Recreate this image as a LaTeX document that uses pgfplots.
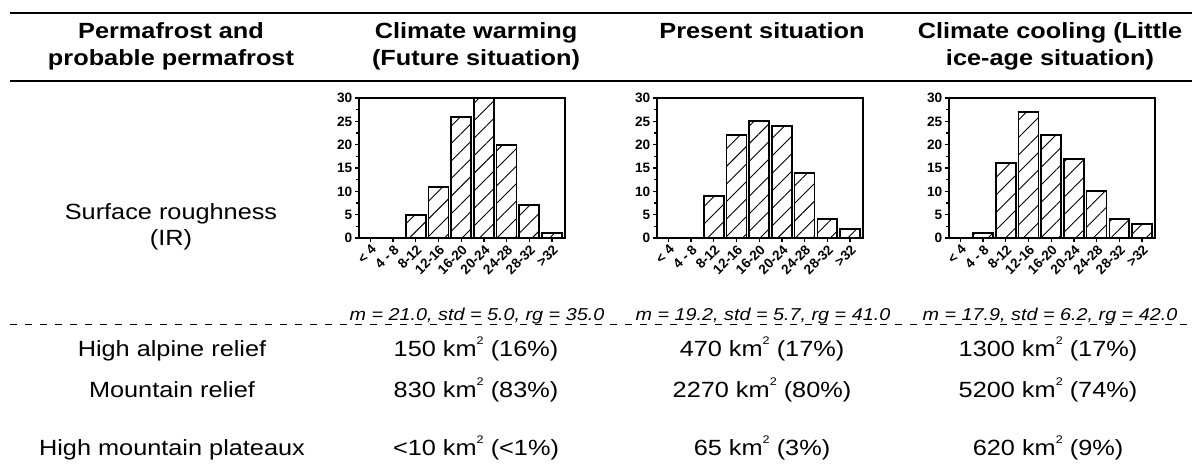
\documentclass[border=0pt]{standalone}
\usepackage{fontspec}
\setmainfont{Liberation Sans}
\usepackage{graphicx}
\usepackage{pgfplots}
\usepackage{pgfplotstable}
\pgfplotsset{compat=1.18}
\usetikzlibrary{patterns.meta}

\pgfplotstableread{
x y
0 0
1 0
2 5
3 11
4 26
5 30
6 20
7 7
8 1
}\warming
\pgfplotstableread{
x y
0 0
1 0
2 9
3 22
4 25
5 24
6 14
7 4
8 2
}\present
\pgfplotstableread{
x y
0 0
1 1
2 16
3 27
4 22
5 17
6 10
7 4
8 3
}\cooling

\newcommand\hs[1]{\scalebox{1.15}[1]{#1}}
\newcommand\hdf{\fontsize{11}{13}\selectfont\bfseries}
\newcommand\bdf{\fontsize{11}{13}\selectfont}
\newcommand\itf{\fontsize{8.6}{10}\selectfont\itshape}
\newcommand\sq{\raisebox{0.95ex}{\fontsize{5.5}{6}\selectfont 2}}

\pgfplotsset{
  hist/.style={
    anchor=south west,
    scale only axis, width=103pt, height=70pt,
    xmin=-0.5, xmax=8.57, ymin=0, ymax=30,
    ybar, bar width=0.88,
    xtick={0,...,8},
    xticklabels={{< 4},{4 - 8},{8-12},{12-16},{16-20},{20-24},{24-28},{28-32},{>32}},
    ytick={0,5,...,30}, minor y tick num=1,
    tick align=outside, major tick length=2pt, minor tick length=1.5pt,
    xtick pos=bottom, ytick pos=left,
    tick style={black, line width=0.6pt},
    axis line style={line width=0.8pt},
    /pgf/number format/assume math mode=true,
    xticklabel style={rotate=45, anchor=north east, inner sep=0.5pt, font=\fontsize{6.8}{7}\selectfont\bfseries},
    yticklabel style={inner sep=1.2pt, font=\fontsize{6.8}{7}\selectfont\bfseries},
  },
  histbar/.style={draw=black, line width=0.85pt, pattern={Lines[angle=45,distance=6.2pt,line width=0.45pt]}},
}

\begin{document}
\begin{tikzpicture}
\begin{scope}[x=0.5pt,y=-0.5pt]
\path[use as bounding box] (0,0) rectangle (1192,472);
% rules
\draw[line width=1pt] (10,13) -- (1192,13);
\draw[line width=0.75pt] (10,81) -- (1192,81);
\draw[line width=0.5pt, dash pattern=on 3.5pt off 4pt] (10,324) -- (1192,324);
% headers
\node[anchor=base, inner sep=0] at (171,38) {\hs{\hdf Permafrost and}};
\node[anchor=base, inner sep=0] at (171,65) {\hs{\hdf probable permafrost}};
\node[anchor=base, inner sep=0] at (476,38) {\hs{\hdf Climate warming}};
\node[anchor=base, inner sep=0] at (476,65) {\hs{\hdf (Future situation)}};
\node[anchor=base, inner sep=0] at (762,38) {\hs{\hdf Present situation}};
\node[anchor=base, inner sep=0] at (1050,38) {\hs{\hdf Climate cooling (Little}};
\node[anchor=base, inner sep=0] at (1050,65) {\hs{\hdf ice-age situation)}};
% row label
\node[anchor=base, inner sep=0] at (171,219) {\hs{\bdf Surface roughness}};
\node[anchor=base, inner sep=0] at (171,245) {\hs{\bdf (IR)}};
% stats
\node[anchor=base, inner sep=0] at (477,320) {\hs{\itf m = 21.0, std = 5.0, rg = 35.0}};
\node[anchor=base, inner sep=0] at (763,320) {\hs{\itf m = 19.2, std = 5.7, rg = 41.0}};
\node[anchor=base, inner sep=0] at (1050,320) {\hs{\itf m = 17.9, std = 6.2, rg = 42.0}};
% rows
\node[anchor=base, inner sep=0] at (172,356) {\hs{\bdf High alpine relief}};
\node[anchor=base, inner sep=0] at (172,397) {\hs{\bdf Mountain relief}};
\node[anchor=base, inner sep=0] at (172,455) {\hs{\bdf High mountain plateaux}};
\node[anchor=base, inner sep=0] at (476,356) {\hs{\bdf 150 km\sq\ (16\%)}};
\node[anchor=base, inner sep=0] at (476,397) {\hs{\bdf 830 km\sq\ (83\%)}};
\node[anchor=base, inner sep=0] at (476,455) {\hs{\bdf <10 km\sq\ (<1\%)}};
\node[anchor=base, inner sep=0] at (762,356) {\hs{\bdf 470 km\sq\ (17\%)}};
\node[anchor=base, inner sep=0] at (762,397) {\hs{\bdf 2270 km\sq\ (80\%)}};
\node[anchor=base, inner sep=0] at (762,455) {\hs{\bdf 65 km\sq\ (3\%)}};
\node[anchor=base, inner sep=0] at (1048,356) {\hs{\bdf 1300 km\sq\ (17\%)}};
\node[anchor=base, inner sep=0] at (1048,397) {\hs{\bdf 5200 km\sq\ (74\%)}};
\node[anchor=base, inner sep=0] at (1048,455) {\hs{\bdf 620 km\sq\ (9\%)}};
\end{scope}
% histograms
\begin{axis}[hist, at={(179.5pt,-119pt)}]
\addplot[histbar] table[x=x,y=y]{\warming};
\end{axis}
\begin{axis}[hist, at={(328.5pt,-119pt)}]
\addplot[histbar] table[x=x,y=y]{\present};
\end{axis}
\begin{axis}[hist, at={(474.5pt,-119pt)}]
\addplot[histbar] table[x=x,y=y]{\cooling};
\end{axis}
\end{tikzpicture}
\end{document}
